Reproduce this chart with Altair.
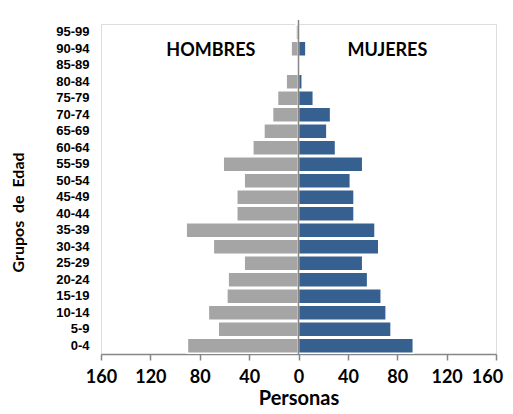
import altair as alt
import pandas as pd

groups = ["0-4", "5-9", "10-14", "15-19", "20-24", "25-29", "30-34", "35-39",
          "40-44", "45-49", "50-54", "55-59", "60-64", "65-69", "70-74",
          "75-79", "80-84", "85-89", "90-94", "95-99"]
hombres = [90, 65, 73, 58, 57, 44, 69, 91, 50, 50, 44, 61, 37, 28, 21, 17, 10, 0, 6, 2]
mujeres = [93, 75, 71, 67, 56, 52, 65, 62, 45, 45, 42, 52, 30, 23, 26, 12, 3, 0, 6, 0]
x_ticks = [-160, -120, -80, -40, 0, 40, 80, 120, 160]

rows = []
for g, h, m in zip(groups, hombres, mujeres):
    rows.append({"grupo": g, "sexo": "Hombres", "valor": -h})
    rows.append({"grupo": g, "sexo": "Mujeres", "valor": m})
df = pd.DataFrame(rows)

order = list(reversed(groups))
W, H = 395, 330
FONT_T = "Lato"
FONT_L = "Liberation Sans"

xscale = alt.Scale(domain=[-160, 160], nice=False, zero=False)
yscale = alt.Scale(domain=order, paddingInner=0.08, paddingOuter=0.04)

bars = alt.Chart(df).mark_bar(stroke="white", strokeWidth=1.5).encode(
    x=alt.X("valor:Q", scale=xscale,
            axis=alt.Axis(values=x_ticks, labelExpr="abs(datum.value)",
                          title="Personas", grid=False, domainColor="#868686",
                          tickColor="#868686", tickSize=6, domainWidth=1.5,
                          tickWidth=1.5, labelFont=FONT_T, labelFontSize=18,
                          labelFontWeight="bold", labelColor="black",
                          labelOffset={"condition": {"test": "datum.value == 160", "value": -9}, "value": 0},
                          labelPadding=8, titleFont=FONT_T, titleFontSize=20,
                          titleFontWeight="bold", titleColor="black",
                          titlePadding=2, labelFlush=False)),
    y=alt.Y("grupo:N", scale=yscale,
            axis=alt.Axis(title="Grupos\u00a0 de\u00a0 Edad", domain=False, ticks=False,
                          labelFont=FONT_L, labelFontSize=13,
                          labelFontWeight="bold", labelColor="black",
                          labelPadding=12, titleFont=FONT_T, titleFontSize=16,
                          titleFontWeight="bold", titleColor="black",
                          titleX=-83, titleY=188, titleAngle=-90,
                          titleBaseline="middle")),
    color=alt.Color("sexo:N",
                    scale=alt.Scale(domain=["Hombres", "Mujeres"],
                                    range=["#A5A5A5", "#36608F"]),
                    legend=None),
)

zero_rule = alt.Chart(pd.DataFrame({"x": [0]})).mark_rule(
    color="#868686", strokeWidth=1.5).encode(
    x=alt.X("x:Q", scale=xscale), y=alt.value(-4), y2=alt.value(H))

labels = pd.DataFrame({"x": [-71, 72], "grupo": ["90-94", "90-94"],
                       "t": ["HOMBRES", "MUJERES"]})
titles = alt.Chart(labels).mark_text(
    font=FONT_T, fontSize=18, fontWeight="bold", color="black", dy=2).encode(
    x=alt.X("x:Q", scale=xscale), y=alt.Y("grupo:N", scale=yscale), text="t:N")

chart = alt.layer(bars, zero_rule, titles).properties(
    width=W, height=H,
    autosize=alt.AutoSizeParams(type="none"),
    padding={"left": 93, "top": 16, "right": 9, "bottom": 60},
).configure_view(stroke=None).configure(background="white")

chart.save("out.html", embed_options={"renderer": "svg", "actions": False})
